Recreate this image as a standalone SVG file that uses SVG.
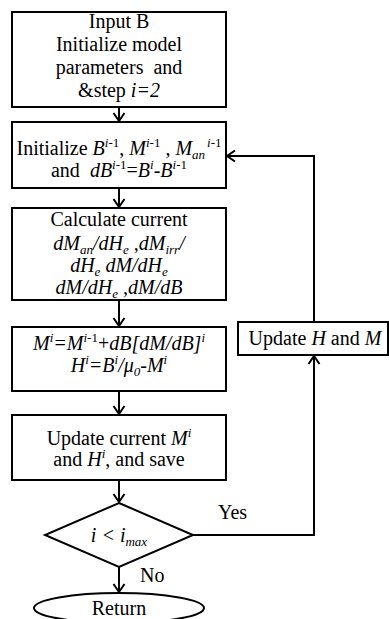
<svg xmlns="http://www.w3.org/2000/svg" width="389" height="619" viewBox="0 0 389 619">
<defs>
<style>
.box{fill:#fff;stroke:#000;stroke-width:2}
.ln{fill:none;stroke:#000;stroke-width:2}
text{font-family:"Liberation Serif","Times New Roman","DejaVu Serif",serif;font-size:20px;fill:#000}
.c{text-anchor:middle}
.i{font-style:italic}
.s{font-size:13px}
</style>
<marker id="ah" markerUnits="userSpaceOnUse" markerWidth="12" markerHeight="14" refX="9" refY="6" orient="auto" viewBox="0 0 12 12">
<path d="M1,0.5 L9,6 L1,11.5" fill="none" stroke="#000" stroke-width="2"/>
</marker>
</defs>
<rect width="389" height="619" fill="#fff"/>
<g id="connectors">
<line class="ln" x1="119" y1="107" x2="119" y2="121" marker-end="url(#ah)"/>
<line class="ln" x1="119" y1="188" x2="119" y2="207" marker-end="url(#ah)"/>
<line class="ln" x1="119" y1="300" x2="119" y2="326" marker-end="url(#ah)"/>
<line class="ln" x1="119" y1="391" x2="119" y2="414" marker-end="url(#ah)"/>
<line class="ln" x1="119" y1="480" x2="119" y2="502" marker-end="url(#ah)"/>
<line class="ln" x1="119" y1="567" x2="119" y2="592" marker-end="url(#ah)"/>
<polyline class="ln" points="193,535 314,535 314,356" marker-end="url(#ah)"/>
<polyline class="ln" points="314,322 314,156 227,156" marker-end="url(#ah)"/>
<text x="218" y="519" font-family="Liberation Serif, serif">Yes</text>
<text x="140" y="582" font-family="Liberation Serif, serif">No</text>
</g>
<g id="n1" font-family="Liberation Serif, serif">
<rect class="box" x="12" y="12" width="214" height="95"/>
<text class="c" x="119" y="28">Input B</text>
<text class="c" x="119" y="51">Initialize model</text>
<text class="c" x="119" y="74" xml:space="preserve">parameters  and</text>
<text class="c" x="119" y="97">&amp;step <tspan class="i">i=2</tspan></text>
</g>
<g id="n2">
<rect class="box" x="12" y="122" width="214" height="66"/>
<text class="c" x="119" y="155">Initialize <tspan class="i">B</tspan><tspan class="s i" dy="-8">i-</tspan><tspan class="s">1</tspan><tspan dy="8">, </tspan><tspan class="i">M</tspan><tspan class="s i" dy="-8">i-</tspan><tspan class="s">1</tspan><tspan dy="8"> , </tspan><tspan class="i">M</tspan><tspan class="s i" dy="4">an</tspan><tspan class="s i" dy="-12" dx="2">i-</tspan><tspan class="s">1</tspan></text>
<text class="c" x="119" y="177" xml:space="preserve">and  <tspan class="i">dB</tspan><tspan class="s i" dy="-8">i-</tspan><tspan class="s">1</tspan><tspan dy="8">=</tspan><tspan class="i">B</tspan><tspan class="s i" dy="-8">i</tspan><tspan dy="8">-</tspan><tspan class="i">B</tspan><tspan class="s i" dy="-8">i-</tspan><tspan class="s">1</tspan></text>
</g>
<g id="n3">
<rect class="box" x="12" y="208" width="214" height="92"/>
<text class="c" x="119" y="226">Calculate current</text>
<text class="c i" x="119" y="250">dM<tspan class="s" dy="4">an</tspan><tspan dy="-4">/dH</tspan><tspan class="s" dy="4">e</tspan><tspan dy="-4"> ,dM</tspan><tspan class="s" dy="4">irr</tspan><tspan dy="-4">/</tspan></text>
<text class="c i" x="119" y="272">dH<tspan class="s" dy="4">e</tspan><tspan dy="-4"> dM/dH</tspan><tspan class="s" dy="4">e</tspan></text>
<text class="c i" x="119" y="294">dM/dH<tspan class="s" dy="4">e</tspan><tspan dy="-4"> ,dM/dB</tspan></text>
</g>
<g id="n4">
<rect class="box" x="12" y="327" width="214" height="64"/>
<text class="c i" x="119" y="350">M<tspan class="s" dy="-8">i</tspan><tspan dy="8">=M</tspan><tspan class="s" dy="-8">i-</tspan><tspan class="s" font-style="normal">1</tspan><tspan dy="8" font-style="normal">+</tspan><tspan>dB[dM/dB]</tspan><tspan class="s" dy="-8">i</tspan></text>
<text class="c i" x="119" y="372">H<tspan class="s" dy="-8">i</tspan><tspan dy="8">=B</tspan><tspan class="s" dy="-8">i</tspan><tspan dy="8">/μ</tspan><tspan class="s" dy="4">0</tspan><tspan dy="-4">-M</tspan><tspan class="s" dy="-8">i</tspan></text>
</g>
<g id="n5">
<rect class="box" x="12" y="415" width="214" height="65"/>
<text class="c" x="119" y="445">Update current <tspan class="i">M</tspan><tspan class="s i" dy="-8">i</tspan></text>
<text class="c" x="119" y="466">and <tspan class="i">H</tspan><tspan class="s i" dy="-8">i</tspan><tspan dy="8">, and save</tspan></text>
</g>
<g id="n6">
<polygon class="box" points="119,503 193,535 119,567 45,535"/>
<text class="c i" x="119" y="542">i &lt; i<tspan class="s" dy="4">max</tspan></text>
</g>
<g id="n7">
<ellipse class="box" cx="119" cy="608" rx="85" ry="15"/>
<text class="c" x="119" y="615">Return</text>
</g>
<g id="n8">
<rect class="box" x="238" y="322" width="150" height="33"/>
<text class="c" x="315" y="345">Update <tspan class="i">H</tspan> and <tspan class="i">M</tspan></text>
</g>
</svg>
